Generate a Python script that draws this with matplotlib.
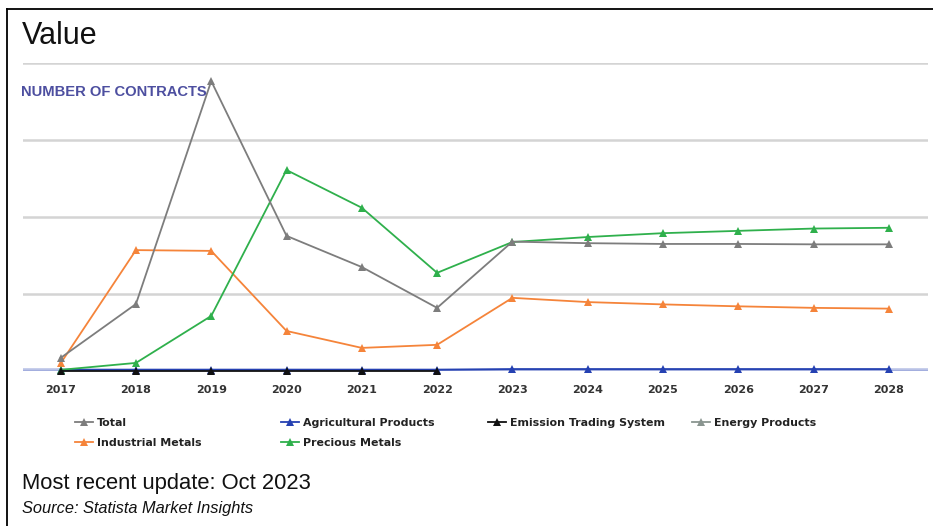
import numpy as np
import matplotlib
matplotlib.use("Agg")
import matplotlib.pyplot as plt
from matplotlib.lines import Line2D

# Number of contracts by commodity segment
years = [2017, 2018, 2019, 2020, 2021, 2022, 2023, 2024, 2025, 2026, 2027, 2028]
total = [3.4, 17.4, 75.3, 35.1, 27.0, 16.4, 33.6, 33.2, 33.0, 33.0, 32.9, 32.9]
agricultural = [0.3, 0.3, 0.3, 0.3, 0.3, 0.3, 0.5, 0.5, 0.5, 0.5, 0.5, 0.5]
emission_trading = [0.0, 0.0, 0.0, 0.0, 0.0, 0.0, np.nan, np.nan, np.nan, np.nan, np.nan, np.nan]
energy = [np.nan] * 12
industrial = [2.0, 31.4, 31.2, 10.4, 6.0, 6.8, 19.0, 17.9, 17.3, 16.8, 16.4, 16.2]
precious = [0.3, 2.1, 14.3, 52.2, 42.4, 25.5, 33.5, 34.8, 35.8, 36.4, 37.0, 37.2]

series = [
    ("Total", total, "#7d7d7d"),
    ("Agricultural Products", agricultural, "#2541b2"),
    ("Emission Trading System", emission_trading, "#111111"),
    ("Energy Products", energy, "#8a9590"),
    ("Industrial Metals", industrial, "#f5843a"),
    ("Precious Metals", precious, "#2fb04c"),
]

W, H = 933, 526
fig = plt.figure(figsize=(W / 100, H / 100), dpi=100)
fig.patch.set_facecolor("white")

ax = fig.add_axes([23 / W, 1 - 371 / H, (928 - 23) / W, (371 - 63) / H])
ax.set_xlim(2016.5, 2028.52)
ax.set_ylim(0, 80)

for y in [20, 40, 60, 80]:
    ax.axhline(y, color="#d4d4d4", lw=1.8, zorder=1)
ax.axhline(0, color="#b9c2e6", lw=4.0, zorder=1)
ax.axhline(0, color="#4a5cc0", lw=1.0, zorder=1)

draw_order = ["Agricultural Products", "Industrial Metals", "Precious Metals",
              "Total", "Emission Trading System"]
lookup = {name: (vals, col) for name, vals, col in series}
for name in draw_order:
    vals, col = lookup[name]
    ax.plot(years, vals, color=col, lw=1.3, marker="^", markersize=5.5,
            markeredgewidth=0, zorder=3, clip_on=False)

for s in ax.spines.values():
    s.set_visible(False)
ax.set_yticks([])
ax.set_xticks(years)
ax.set_xticklabels([str(y) for y in years], fontsize=8, fontweight="bold",
                   color="#333333", family="DejaVu Sans")
ax.tick_params(axis="x", length=0, pad=10)

# Legend laid out on fixed column positions
legend_cols = [
    (75, ["Total", "Industrial Metals"]),
    (281, ["Agricultural Products", "Precious Metals"]),
    (488, ["Emission Trading System"]),
    (692, ["Energy Products"]),
]
for x0, names in legend_cols:
    handles = [Line2D([], [], color=lookup[n][1], lw=1.3, marker="^",
                      markersize=5.5, markeredgewidth=0) for n in names]
    leg = fig.legend(handles, names, loc="upper left",
                     bbox_to_anchor=(x0 / W, 1 - 418 / H), frameon=False,
                     handlelength=1.6, handletextpad=0.4, labelspacing=0.9,
                     borderpad=0, borderaxespad=0,
                     prop={"family": "DejaVu Sans", "weight": "bold", "size": 7.9})
    for t in leg.get_texts():
        t.set_color("#222222")

fig.text(22 / W, 1 - 36 / H, "Value", fontsize=22, family="Liberation Sans",
         va="center", ha="left", color="#111111")
fig.text(21 / W, 1 - 92 / H, "NUMBER OF CONTRACTS", fontsize=10.6,
         family="Liberation Sans", fontweight="bold", color="#4d4fa0",
         va="center", ha="left")
fig.text(22 / W, 1 - 483 / H, "Most recent update: Oct 2023", fontsize=15.8,
         family="Liberation Sans", va="center", ha="left", color="#111111")
fig.text(22 / W, 1 - 508 / H, "Source: Statista Market Insights", fontsize=11.8,
         family="Liberation Sans", style="italic", va="center", ha="left",
         color="#111111")

# Frame lines along the top and left edge
fig.add_artist(Line2D([7 / W, 7 / W], [0, 1 - 9 / H], color="black", lw=1.3,
                      transform=fig.transFigure))
fig.add_artist(Line2D([7 / W, 1], [1 - 9 / H, 1 - 9 / H], color="black", lw=1.3,
                      transform=fig.transFigure))

fig.savefig("out.png", dpi=100, facecolor="white")
